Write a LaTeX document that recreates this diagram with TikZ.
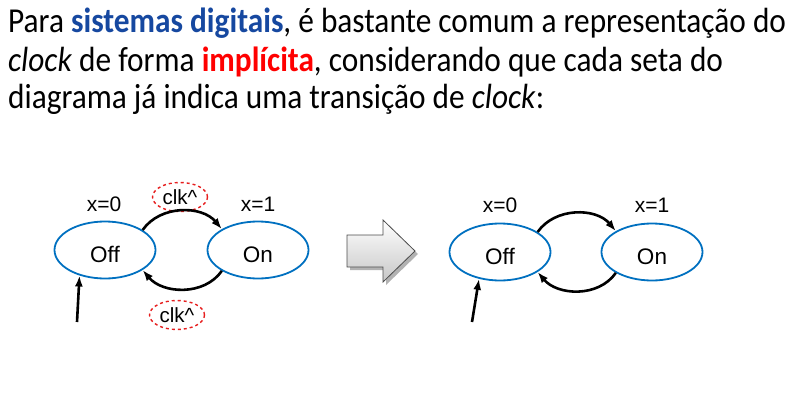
\documentclass[tikz,border=0pt]{standalone}
\usepackage{fontspec}
\setmainfont{Carlito}[FakeStretch=0.895]
\newfontfamily\arialf{Liberation Sans}
\usetikzlibrary{arrows.meta,shapes.geometric,shadows}
\definecolor{stblue}{RGB}{0,112,192}
\definecolor{ttblue}{RGB}{22,72,160}
\definecolor{ttred}{RGB}{255,0,0}
\definecolor{lblred}{RGB}{230,30,30}
\begin{document}
\begin{tikzpicture}[x=1pt,y=-1pt,
  state/.style={ellipse,draw=stblue,line width=1.8pt,minimum width=101pt,minimum height=57pt,inner sep=0pt,text height=24pt,text depth=0pt,font=\arialf\fontsize{22.5}{24}\selectfont},
  outlbl/.style={font=\arialf\fontsize{21}{23}\selectfont,inner sep=0pt},
  clklbl/.style={ellipse,draw=lblred,dashed,line width=1.4pt,minimum width=55pt,minimum height=29pt,inner sep=0pt,font=\arialf\fontsize{20.5}{22}\selectfont},
  trans/.style={line width=2.6pt,-{Latex[length=11pt,width=8pt]}},
  title/.style={anchor=base west,inner sep=0pt,font=\fontsize{35}{40}\selectfont}]
\useasboundingbox (0,0) rectangle (812,404);
% title
\node[title] (l1) at (8,33) {Para \textcolor{ttblue}{\textbf{sistemas digitais}}, é bastante comum a representação do};
\node[title] (l2) at (8,72) {\textit{clock} de forma \textcolor{ttred}{\textbf{implícita}}, considerando que cada seta do};
\node[title] (l3) at (8,109) {diagrama já indica uma transição de \textit{clock}:};
% left diagram
\node[state] (off1) at (105,250) {Off};
\node[state] (on1) at (258,250) {On};
\node[outlbl] (x01) at (104,204) {x=0};
\node[outlbl] (x11) at (258,204) {x=1};
\node[clklbl] (c1) at (180,197) {clk\^{}};
\node[clklbl] (c2) at (177,315) {clk\^{}};
\draw[trans] (off1.28) to[out=55,in=130] (on1.150);
\draw[trans] (on1.-150) to[out=-125,in=-50] (off1.-28);
\coordinate (i1) at (77,322);
\draw[trans] (i1) -- (off1.-135);
% big arrow
\fill[black!30] (350,238) -- (386,238) -- (386,223) -- (418,254) -- (386,285) -- (386,270) -- (350,270) -- cycle;
\shade[top color=white,bottom color=black!22,draw=black!70,line width=0.8pt] (347,235) -- (383,235) -- (383,220) -- (415,251) -- (383,282) -- (383,267) -- (347,267) -- cycle;
% right diagram
\node[state] (off2) at (500,252) {Off};
\node[state] (on2) at (652,252) {On};
\node[outlbl] (x02) at (500,205) {x=0};
\node[outlbl] (x12) at (652,205) {x=1};
\draw[trans] (off2.28) to[out=55,in=130] (on2.150);
\draw[trans] (on2.-150) to[out=-125,in=-50] (off2.-28);
\coordinate (i2) at (472,322);
\draw[trans] (i2) -- (off2.-128);
\end{tikzpicture}
\end{document}
